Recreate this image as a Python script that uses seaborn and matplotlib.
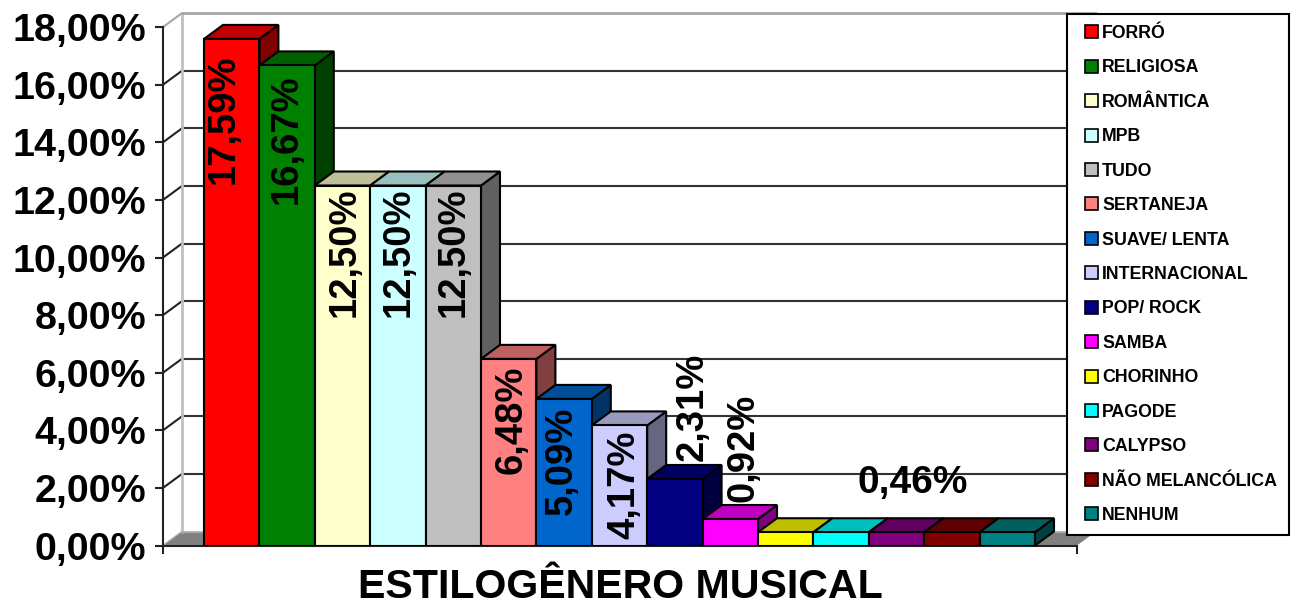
import matplotlib
matplotlib.use("Agg")
import matplotlib.pyplot as plt
import matplotlib.colors as mcolors
import pandas as pd
import seaborn as sns

#%% dados
generos = ["FORRÓ", "RELIGIOSA", "ROMÂNTICA", "MPB", "TUDO", "SERTANEJA", "SUAVE/ LENTA",
           "INTERNACIONAL", "POP/ ROCK", "SAMBA", "CHORINHO", "PAGODE", "CALYPSO",
           "NÃO MELANCÓLICA", "NENHUM"]
valores = [17.59, 16.67, 12.50, 12.50, 12.50, 6.48, 5.09, 4.17, 2.31, 0.92,
           0.46, 0.46, 0.46, 0.46, 0.46]
cores = ["#FF0000", "#008000", "#FFFFCC", "#CCFFFF", "#C0C0C0", "#FF8080", "#0066CC",
         "#CCCCFF", "#000080", "#FF00FF", "#FFFF00", "#00FFFF", "#800080", "#800000", "#008080"]
rotulos_barras = ["17,59%", "16,67%", "12,50%", "12,50%", "12,50%", "6,48%", "5,09%",
                  "4,17%", "2,31%", "0,92%", "", "", "0,46%", "", ""]
ticks_y = [0, 2, 4, 6, 8, 10, 12, 14, 16, 18]
rotulos_y = ["0,00%", "2,00%", "4,00%", "6,00%", "8,00%", "10,00%", "12,00%", "14,00%", "16,00%", "18,00%"]
titulo_x = "ESTILOGÊNERO MUSICAL"

#%% layout (pixels)
W, H = 1296, 604
x_esq, x_dir, y_base = 163, 1077, 545.5
px_por_pct = 28.8
larg_barra = 55.4
folga = 41
prof_x, prof_y = 19, 14
# deslocamento de cada rotulo em relacao ao topo da barra
desloc_rotulos = [(-8, -80), (0, -74), (2, -67), (1, -67), (0, -67), (3, -61), (-2, -62),
                  (5, -59), (18, 72), (13, 71), (0, 0), (0, 0), (16, 49), (0, 0), (0, 0)]

#%% tema
sns.set_theme(style="white")
plt.rcParams["font.family"] = ["Liberation Sans", "DejaVu Sans"]
plt.rcParams["font.weight"] = "bold"

fig = plt.figure(figsize=(W / 100, H / 100), dpi=100)
ax = fig.add_axes([x_esq / W, (H - y_base) / H, (x_dir - x_esq) / W, 18 * px_por_pct / H])

df = pd.DataFrame({"genero": generos, "valor": valores})
sns.barplot(data=df, x="genero", y="valor", hue="genero", palette=cores, saturation=1,
            width=1, dodge=False, legend=True, edgecolor="black", linewidth=1.5, ax=ax)

xmin = -0.5 - folga / larg_barra
xmax = xmin + (x_dir - x_esq) / larg_barra
ax.set_xlim(xmin, xmax)
ax.set_ylim(0, 18)
dx = prof_x / larg_barra
dy = prof_y / px_por_pct

#%% paredes do fundo
ax.fill([xmin, xmin + dx, xmax + dx, xmax], [0, dy, dy, 0], color="#808080", zorder=0.5, clip_on=False, lw=0)
for t in ticks_y[1:-1]:
    ax.plot([xmin + dx, xmax + dx], [t + dy, t + dy], color="#333333", lw=1.5, zorder=1, clip_on=False)
for t in ticks_y[1:]:
    ax.plot([xmin, xmin + dx], [t, t + dy], color="#222222" if t < 18 else "#A6A6A6", lw=1.5, zorder=1, clip_on=False)
ax.plot([xmin + dx, xmin + dx], [dy, 18 + dy], color="#C0C0C0", lw=2, zorder=1, clip_on=False)
ax.plot([xmin + dx, xmax + dx], [18 + dy, 18 + dy], color="#A6A6A6", lw=2, zorder=1, clip_on=False)
ax.plot([xmin, xmin + dx], [0, dy], color="#A6A6A6", lw=1, zorder=1, clip_on=False)
ax.plot([xmin + dx, xmax + dx], [dy, dy], color="#A6A6A6", lw=1, zorder=1, clip_on=False)

#%% barras 3d: faces de cima e do lado
for i, (barra, v, c) in enumerate(zip(ax.patches, valores, cores)):
    rgb = mcolors.to_rgb(c)
    z = 3 + i * 0.1
    esq, dir_ = barra.get_x(), barra.get_x() + barra.get_width()
    ax.fill([dir_, dir_ + dx, dir_ + dx, dir_], [0, dy, v + dy, v],
            facecolor=[k * 0.5 for k in rgb], edgecolor="black", lw=1.5, zorder=z, clip_on=False)
    ax.fill([esq, esq + dx, dir_ + dx, dir_], [v, v + dy, v + dy, v],
            facecolor=[k * 0.75 for k in rgb], edgecolor="black", lw=1.5, zorder=z, clip_on=False)
    barra.set_zorder(z + 0.05)

#%% rotulos das barras
for i, (v, txt, (ox, oy)) in enumerate(zip(valores, rotulos_barras, desloc_rotulos)):
    if txt:
        ax.annotate(txt, xy=(i, v), xytext=(ox, oy), textcoords="offset pixels", ha="center", va="center",
                    rotation=0 if txt == "0,46%" else 90, fontsize=28 if txt == "0,46%" else 27.5,
                    fontweight="bold", color="black", zorder=8, annotation_clip=False)

#%% eixos
for lado in ["top", "right"]:
    ax.spines[lado].set_visible(False)
for lado in ["left", "bottom"]:
    ax.spines[lado].set_color("#222222")
    ax.spines[lado].set_linewidth(1.5)
    ax.spines[lado].set_zorder(2)

ax.set_yticks(ticks_y)
ax.set_yticklabels(rotulos_y, fontsize=28.4, fontweight="bold", color="black")
ax.set_xticks([xmin, xmax])
ax.set_xticklabels(["", ""])
ax.tick_params(axis="both", which="major", left=True, bottom=True, length=6, width=1.5, color="#222222")
ax.tick_params(axis="y", pad=6)
ax.set_ylabel("")
ax.set_xlabel(titulo_x, fontsize=29.6, fontweight="bold", color="black", labelpad=7)

#%% legenda
handles, labels = ax.get_legend_handles_labels()
leg = ax.legend(handles, labels, loc="upper left", bbox_to_anchor=(1067 / W, 1 - 14 / H, 222 / W, 0),
                bbox_transform=fig.transFigure, mode="expand", ncol=1, frameon=True,
                fancybox=False, framealpha=1, facecolor="white", edgecolor="black", labelcolor="black",
                handlelength=0.75, handleheight=0.75, handletextpad=0.6,
                labelspacing=0.98, borderpad=0.62, borderaxespad=0,
                prop={"weight": "bold", "size": 12.8})
leg.set_zorder(10)
leg.get_frame().set_linewidth(1.5)
for h in leg.legend_handles:
    h.set_edgecolor("black")
    h.set_linewidth(1.2)
    h.set_x(h.get_x() + 5)  # em pontos, caixa de cor mais para dentro

fig.savefig("out.png", dpi=100)
